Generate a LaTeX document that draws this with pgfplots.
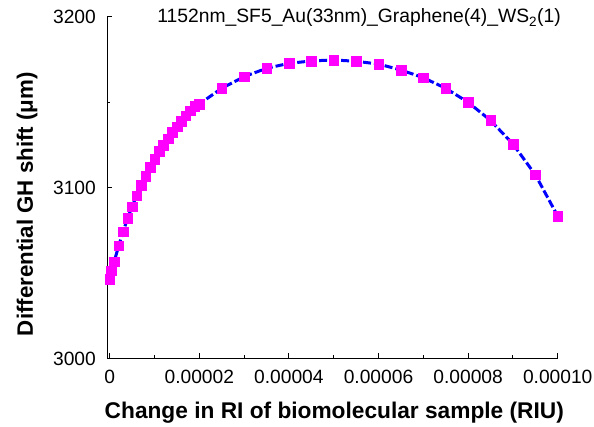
\documentclass[border=0pt]{standalone}
\usepackage{fontspec}
\setmainfont{Liberation Sans}
\usepackage{pgfplots}
\pgfplotsset{compat=1.18}
\definecolor{mag}{RGB}{255,0,255}
\definecolor{blu}{RGB}{0,0,255}
\pgfplotstableread{
x y
0 3046.5
3e-7 3051.4
1e-6 3056.7
2e-6 3066.0
3e-6 3074.2
4e-6 3082.3
5e-6 3088.9
6e-6 3095.3
7e-6 3101.4
8e-6 3106.9
9e-6 3111.9
1e-5 3116.6
1.1e-5 3121.3
1.2e-5 3125.0
1.3e-5 3128.7
1.4e-5 3132.4
1.5e-5 3135.7
1.6e-5 3138.9
1.7e-5 3142.2
1.8e-5 3145.1
1.9e-5 3147.7
2e-5 3149.0
2.5e-5 3158.2
3e-5 3165.0
3.5e-5 3169.9
4e-5 3172.8
4.5e-5 3174.2
5e-5 3174.8
5.5e-5 3174.0
6e-5 3172.4
6.5e-5 3168.9
7e-5 3164.4
7.5e-5 3158.2
8e-5 3150.0
8.5e-5 3139.4
9e-5 3125.6
9.5e-5 3107.6
1e-4 3083.4
}\datatable
\begin{document}
\begin{tikzpicture}
\path[use as bounding box] (-107.3pt,-68.5pt) rectangle (486.7pt,358.5pt);
\begin{axis}[
  scale only axis, width=450.4pt, height=341.6pt,
  at={(0pt,0pt)}, anchor=south west,
  xmin=-5.4e-7, xmax=1e-4, ymin=3000, ymax=3200,
  axis x line*=bottom, axis y line*=left,
  axis line style={-, line width=1.1pt, black},
  tick align=inside,
  major tick length=5pt, minor tick length=3pt,
  every tick/.style={black, line width=1pt},
  xtick={0,2e-5,4e-5,6e-5,8e-5,1e-4},
  xticklabels={0,0.00002,0.00004,0.00006,0.00008,0.00010},
  minor xtick={1e-5,3e-5,5e-5,7e-5,9e-5},
  ytick={3000,3100,3200},
  yticklabels={3000,3100,3200},
  minor ytick={3050,3150},
  scaled x ticks=false, scaled y ticks=false,
  /pgf/number format/assume math mode=true,
  ticklabel style={font=\fontsize{19.2}{21}\selectfont},
  xticklabel style={anchor=north, inner sep=0pt, yshift=-11.5pt},
  yticklabel style={anchor=east, inner sep=0pt, xshift=-11.3pt},
  xlabel={Change in RI of biomolecular sample (RIU)},
  ylabel={Differential GH shift (μm)},
  xlabel style={at={(axis description cs:0.504,-0.175)}, anchor=base, inner sep=0pt, font=\bfseries\fontsize{22.7}{24}\selectfont},
  ylabel style={at={(axis description cs:-0.165,0.452)}, anchor=base, inner sep=0pt, font=\bfseries\fontsize{22.3}{24}\selectfont},
  title={1152nm\_SF5\_Au(33nm)\_Graphene(4)\_WS\textsubscript{2}(1)},
  title style={at={(axis description cs:0.559,0.9646)}, anchor=base, inner sep=0pt, font=\fontsize{19.3}{21}\selectfont},
  clip=false,
]
\addplot[blu, line width=3pt, dash pattern=on 8pt off 3pt,
  mark=square*, mark size=4.8pt,
  mark options={solid, fill=mag, draw=mag, line width=0.4pt}]
  table[x=x, y=y] {\datatable};
\end{axis}
\end{tikzpicture}
\end{document}
